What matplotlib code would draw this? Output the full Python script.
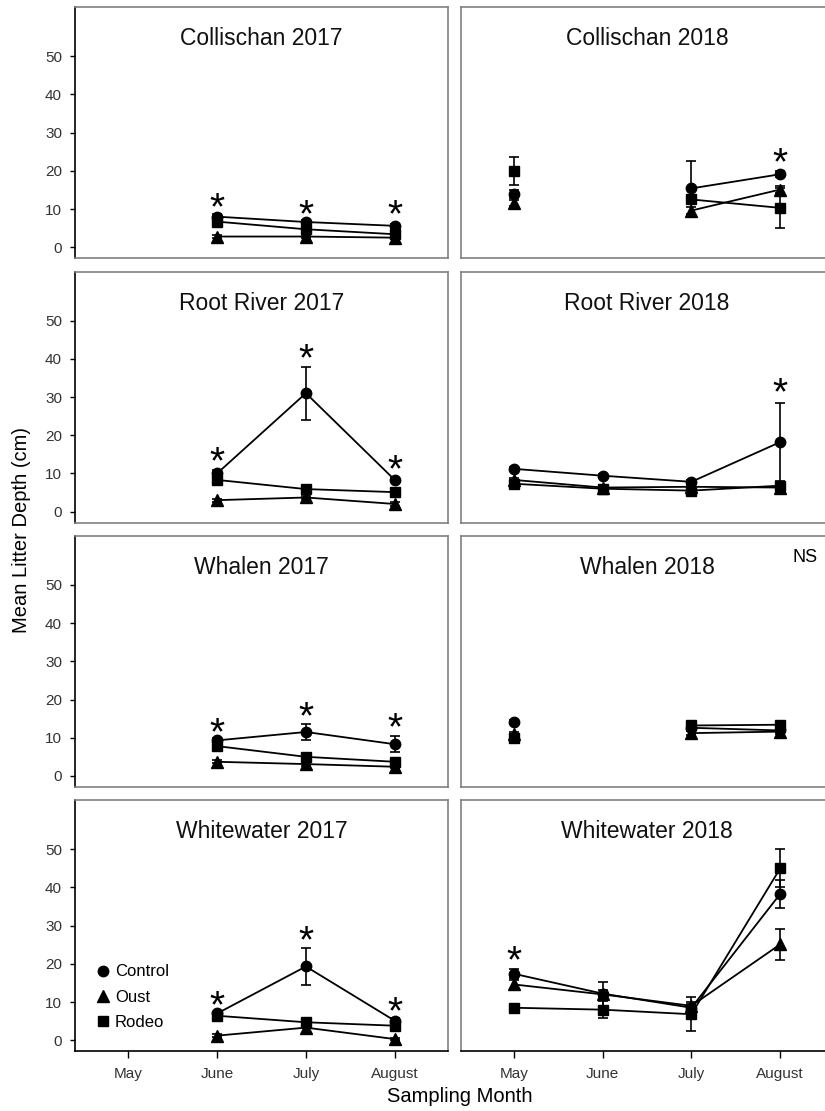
import numpy as np
import matplotlib
matplotlib.use('Agg')
import matplotlib.pyplot as plt
from matplotlib.lines import Line2D

plt.rcParams['font.family'] = ['Liberation Sans', 'DejaVu Sans']

nan = np.nan
months = ['May', 'June', 'July', 'August']
treatments = ['Control', 'Oust', 'Rodeo']
markers = {'Control': 'o', 'Oust': '^', 'Rodeo': 's'}
msizes = {'Control': 7.5, 'Oust': 8.5, 'Rodeo': 7}

# mean litter depth (cm) and SE, months May..August
col17_control = [nan, 8.0, 6.6, 5.6]
col17_oust = [nan, 2.8, 2.8, 2.5]
col17_rodeo = [nan, 6.7, 4.7, 3.4]
col17_control_se = [nan, 0.6, 0.5, 0.5]
col17_oust_se = [nan, 0.4, 0.4, 0.4]
col17_rodeo_se = [nan, 0.5, 0.5, 0.4]
col17_stars = [nan, 13.2, 11.3, 11.3]

col18_control = [13.9, nan, 15.4, 19.1]
col18_oust = [11.5, nan, 9.6, 15.1]
col18_rodeo = [20.0, nan, 12.5, 10.3]
col18_control_se = [1.0, nan, 7.2, 0.8]
col18_oust_se = [0.8, nan, 1.0, 1.0]
col18_rodeo_se = [3.7, nan, 1.0, 5.3]
col18_stars = [nan, nan, nan, 25.0]

root17_control = [nan, 10.0, 31.0, 8.3]
root17_oust = [nan, 3.0, 3.7, 2.0]
root17_rodeo = [nan, 8.3, 5.9, 5.1]
root17_control_se = [nan, 0.8, 6.9, 0.5]
root17_oust_se = [nan, 0.4, 0.5, 0.4]
root17_rodeo_se = [nan, 0.6, 0.5, 0.5]
root17_stars = [nan, 16.0, 43.0, 13.8]

root18_control = [11.2, 9.4, 7.8, 18.2]
root18_oust = [8.3, 6.3, 6.5, 6.3]
root18_rodeo = [7.3, 6.0, 5.5, 6.8]
root18_control_se = [0.5, 0.5, 0.5, 10.2]
root18_oust_se = [0.5, 0.5, 0.5, 0.5]
root18_rodeo_se = [0.5, 0.5, 0.5, 0.5]
root18_stars = [nan, nan, nan, 34.0]

wha17_control = [nan, 9.3, 11.5, 8.3]
wha17_oust = [nan, 3.7, 3.1, 2.4]
wha17_rodeo = [nan, 7.8, 5.0, 3.7]
wha17_control_se = [nan, 0.6, 2.2, 2.1]
wha17_oust_se = [nan, 0.4, 0.4, 0.4]
wha17_rodeo_se = [nan, 0.5, 0.6, 0.5]
wha17_stars = [nan, 14.3, 18.3, 15.4]

wha18_control = [14.2, nan, 12.6, 11.9]
wha18_oust = [11.0, nan, 11.2, 11.6]
wha18_rodeo = [9.8, nan, 13.2, 13.4]
wha18_control_se = [0.5, nan, 0.5, 0.5]
wha18_oust_se = [0.5, nan, 0.5, 0.5]
wha18_rodeo_se = [0.5, nan, 0.5, 0.5]
wha18_stars = [nan, nan, nan, nan]

ww17_control = [nan, 7.0, 19.3, 5.1]
ww17_oust = [nan, 1.2, 3.3, 0.3]
ww17_rodeo = [nan, 6.4, 4.7, 3.8]
ww17_control_se = [nan, 0.5, 4.8, 0.6]
ww17_oust_se = [nan, 0.4, 1.8, 0.3]
ww17_rodeo_se = [nan, 0.5, 0.6, 0.5]
ww17_stars = [nan, 12.0, 29.0, 10.4]

ww18_control = [17.4, 12.2, 8.5, 38.3]
ww18_oust = [14.6, 12.0, 9.0, 25.1]
ww18_rodeo = [8.5, 8.0, 6.8, 45.0]
ww18_control_se = [1.2, 1.0, 1.0, 3.7]
ww18_oust_se = [1.2, 3.3, 1.0, 4.0]
ww18_rodeo_se = [0.5, 2.2, 4.4, 5.0]
ww18_stars = [23.6, nan, nan, nan]

panels = [
    ('Collischan 2017', [col17_control, col17_oust, col17_rodeo],
     [col17_control_se, col17_oust_se, col17_rodeo_se], col17_stars),
    ('Collischan 2018', [col18_control, col18_oust, col18_rodeo],
     [col18_control_se, col18_oust_se, col18_rodeo_se], col18_stars),
    ('Root River 2017', [root17_control, root17_oust, root17_rodeo],
     [root17_control_se, root17_oust_se, root17_rodeo_se], root17_stars),
    ('Root River 2018', [root18_control, root18_oust, root18_rodeo],
     [root18_control_se, root18_oust_se, root18_rodeo_se], root18_stars),
    ('Whalen 2017', [wha17_control, wha17_oust, wha17_rodeo],
     [wha17_control_se, wha17_oust_se, wha17_rodeo_se], wha17_stars),
    ('Whalen 2018', [wha18_control, wha18_oust, wha18_rodeo],
     [wha18_control_se, wha18_oust_se, wha18_rodeo_se], wha18_stars),
    ('Whitewater 2017', [ww17_control, ww17_oust, ww17_rodeo],
     [ww17_control_se, ww17_oust_se, ww17_rodeo_se], ww17_stars),
    ('Whitewater 2018', [ww18_control, ww18_oust, ww18_rodeo],
     [ww18_control_se, ww18_oust_se, ww18_rodeo_se], ww18_stars),
]

W, H = 825, 1111
fig = plt.figure(figsize=(W / 100, H / 100), dpi=100)

col_left = [75, 460.5]
row_top = [7.3, 271.7, 536.0, 800.3]
pw, ph = 373, 251
border = '#808080'
star_fs = 28
x = np.arange(1, 5)

for i, (title, means, ses, stars) in enumerate(panels):
    r, c = divmod(i, 2)
    ax = fig.add_axes([col_left[c] / W, 1 - (row_top[r] + ph) / H, pw / W, ph / H])
    for t, m, s in zip(treatments, means, ses):
        ax.errorbar(x, m, yerr=s, color='black', marker=markers[t],
                    ms=msizes[t], lw=1.3, elinewidth=1.2, capsize=3.5,
                    capthick=1.2, label=t)
    for xi, yi in zip(x, stars):
        if not np.isnan(yi):
            ax.annotate('*', (xi, yi), xytext=(0, -0.58 * star_fs),
                        textcoords='offset points', ha='center',
                        va='baseline', fontsize=star_fs)
    ax.text(0.5, 0.874, title, transform=ax.transAxes, ha='center',
            va='center', fontsize=16.5, color='#111111')
    ax.set_xlim(0.4, 4.6)
    ax.set_ylim(-2.9, 62.8)
    for sp in ax.spines.values():
        sp.set_color(border)
        sp.set_linewidth(1.2)
    if c == 0:
        ax.spines['left'].set_color('black')
        ax.set_yticks([0, 10, 20, 30, 40, 50])
        ax.tick_params(axis='y', length=3.8, width=1, color='black', pad=5.5,
                       labelsize=11, labelcolor='#333333')
    else:
        ax.tick_params(axis='y', left=False, labelleft=False)
    if r == 3:
        ax.spines['bottom'].set_color('black')
        ax.set_xticks(x)
        ax.set_xticklabels(months)
        ax.tick_params(axis='x', length=5, width=1, color='black', pad=6,
                       labelsize=11, labelcolor='#333333')
    else:
        ax.tick_params(axis='x', bottom=False, labelbottom=False)
    if title == 'Whalen 2018':
        ax.text(4.28, 57.2, 'NS', ha='center', va='center', fontsize=13)
    if title == 'Whitewater 2017':
        handles = [Line2D([], [], color='black', marker=markers[t], ls='none',
                          ms=msizes[t]) for t in treatments]
        ax.legend(handles, treatments, loc='upper left',
                  bbox_to_anchor=((96 - 75) / pw, (800.3 + ph - 964.5) / ph),
                  frameon=False, fontsize=12, handlelength=0.8,
                  handletextpad=0.33, labelspacing=0.62, borderpad=0,
                  borderaxespad=0)

fig.text(22 / W, 1 - 530 / H, 'Mean Litter Depth (cm)', rotation=90,
         ha='center', va='center', fontsize=14.5)
fig.text(460 / W, 1 - 1097 / H, 'Sampling Month', ha='center', va='center',
         fontsize=14.5)

fig.savefig('out.png', dpi=100)
